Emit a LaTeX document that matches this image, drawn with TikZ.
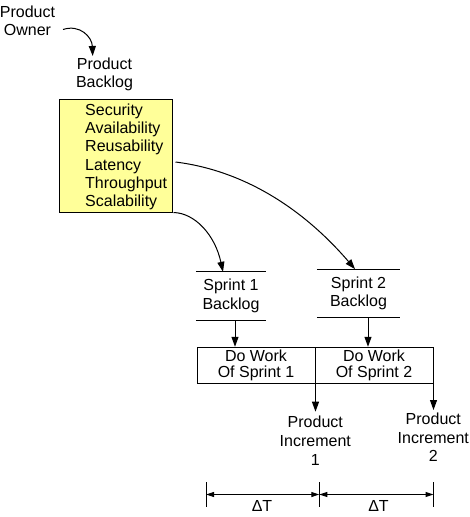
\documentclass[tikz,border=0pt]{standalone}
\usepackage{fontspec}
\setmainfont{Liberation Sans}
\usetikzlibrary{arrows.meta,calc}
\definecolor{boxyellow}{RGB}{255,255,153}
\begin{document}
\begin{tikzpicture}[x=1pt,y=-1pt,
  lbl/.style={align=center,inner sep=0pt,font=\fontsize{16}{18.5}\selectfont},
  arr/.style={line width=1pt,-{Triangle[length=10pt,width=7pt]}},
  dimarr/.style={line width=1pt,{Triangle[length=8pt,width=5pt]}-{Triangle[length=8pt,width=5pt]}},
  ybox/.style={draw,line width=1pt,fill=boxyellow,minimum width=113pt,minimum height=113pt,inner sep=0pt},
  wbox/.style={draw,line width=1pt,minimum width=118pt,minimum height=36pt,inner sep=0pt,align=center,font=\fontsize{16}{16.7}\selectfont},
  sbl/.style={lbl,minimum height=48pt,minimum width=70pt}
]
\useasboundingbox (0,0) rectangle (469,517);
% Product Owner
\node[lbl] (po) at (27.5,20.8) {Product\\Owner};
\node[lbl] (pbl) at (104.5,74.3) {Product\\Backlog};
\coordinate (poA) at (63,29.5);
\coordinate (pblA) at (92.7,56);
\draw[arr] (poA) .. controls (80,24) and (92,37) .. (pblA);
% Product backlog box
\node[ybox] (pb) at (115.5,155.5) {};
\node[lbl,align=left,anchor=west,font=\fontsize{16}{18.3}\selectfont] (pbt) at (85,156.8) {Security\\Availability\\Reusability\\Latency\\Throughput\\Scalability};
% Sprint backlogs
\node[sbl] (s1) at (231,296) {Sprint 1\\Backlog};
\draw[line width=1pt] (s1.north west) -- (s1.north east);
\draw[line width=1pt] (s1.south west) -- (s1.south east);
\node[sbl,minimum width=83pt] (s2) at (358.5,293.3) {Sprint 2\\Backlog};
\draw[line width=1pt] (s2.north west) -- (s2.north east);
\draw[line width=1pt] (s2.south west) -- (s2.south east);
% curves from product backlog
\draw[arr] ($(pb.east)+(3,6.5)$) .. controls (240,170) and (300,205) .. ([xshift=-3.5pt]s2.north);
\draw[arr] ($(pb.south east)+(1,0)$) .. controls (195,213) and (215,235) .. ([xshift=-8pt]s1.north);
% Do work boxes
\node[wbox] (dw1) at (256,365.3) {Do Work\\Of Sprint 1};
\node[wbox] (dw2) at (374,365.3) {Do Work\\Of Sprint 2};
\draw[arr] ([xshift=4pt]s1.south) -- ([xshift=4pt]s1.south |- dw1.north);
\draw[arr] ([xshift=9.5pt]s2.south) -- ([xshift=9.5pt]s2.south |- dw2.north);
% Product increments
\node[lbl,font=\fontsize{16}{18.8}\selectfont] (pi1) at (315.3,440.8) {Product\\Increment\\1};
\node[lbl,font=\fontsize{16}{18.8}\selectfont] (pi2) at (433.3,437.2) {Product\\Increment\\2};
\draw[arr] (dw1.south east) -- (dw1.south east |- 0,411.7);
\draw[arr] (dw2.south east) -- (dw2.south east |- 0,410);
% time dimension
\coordinate (t0) at (206,494.5);
\coordinate (t1) at (319.3,494.5);
\coordinate (t2) at (433.5,494.5);
\foreach \t in {t0,t1,t2} \draw[line width=1pt] ($(\t)+(0,-12.5)$) -- ($(\t)+(0,12.5)$);
\draw[dimarr] (t0) -- (t1);
\draw[dimarr] (t1) -- (t2);
\node[lbl] (dt1) at (262,506.4) {ΔT};
\node[lbl] (dt2) at (378.5,506.4) {ΔT};
\end{tikzpicture}
\end{document}
